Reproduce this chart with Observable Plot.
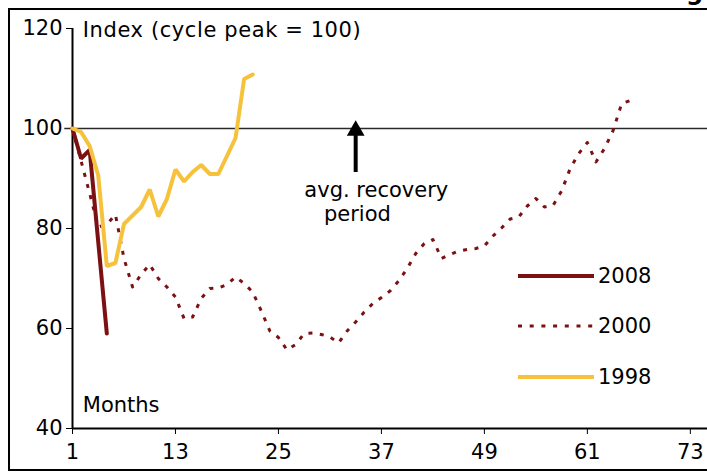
<!DOCTYPE html>
<html>
<head>
<meta charset="utf-8">
<script src="https://cdn.jsdelivr.net/npm/d3@7"></script>
<script src="https://cdn.jsdelivr.net/npm/@observablehq/plot@0.6"></script>
<style>
  html, body { margin: 0; padding: 0; background: #fff; overflow: hidden; }
  #wrap { position: relative; width: 707px; height: 475px; overflow: hidden; font-family: "DejaVu Sans", sans-serif; }
  #frame { position: absolute; left: 8px; top: 8px; width: 710px; height: 463px; border: 2px solid #000; box-sizing: border-box; pointer-events: none; }
  #cut { position: absolute; left: 686px; top: -20px; font: bold 24px "DejaVu Sans"; line-height: 24px; color: #000; }
  .leg { position: absolute; left: 518px; height: 30px; display: flex; align-items: center; font-size: 21px; color: #000; }
  .leg svg { width: 76px; height: 10px; margin-right: 4px; }
  .wide { letter-spacing: 0.6px; }
</style>
</head>
<body>
<div id="wrap">
  <div id="chart"></div>
  <div id="frame"></div>
  <div id="cut">g</div>
  <div id="legend"></div>
</div>
<script>
// ---- data ----
const months2008 = [1, 2, 3, 4, 5];
const values2008 = [100, 94, 95.7, 77.3, 59];

const months1998 = [1,2,3,4,5,6,7,8,9,10,11,12,13,14,15,16,17,18,19,20,21,22];
const values1998 = [100, 99.3, 96.5, 90.6, 72.5, 73.1, 80.9, 82.6, 84.3, 87.8, 82.4, 85.9, 91.8, 89.4, 91.3, 92.7, 90.9, 90.9, 94.5, 98.1, 109.9, 110.8];

const months2000 = d3.range(1, 67);
const values2000 = [100, 93.5, 87, 80.3, 80.8, 82.8, 74, 68.3, 70.8, 72.8,
                    70, 68.3, 66.3, 62, 62.3, 66, 68, 68.1, 68.8, 70.3,
                    69, 67.3, 63.5, 59.5, 58.2, 55.7, 56.8, 59, 59.1, 58.8,
                    58.3, 57.1, 59.5, 61.3, 63.3, 65, 66.2, 67.5, 69.5, 72,
                    75, 77, 77.8, 74, 74.8, 75.5, 75.8, 76, 76.5, 78.5,
                    80.1, 81.9, 82.3, 84.5, 86, 84.3, 84.6, 87.5, 92, 95,
                    97.2, 93.3, 96, 99.6, 105, 105.6];

const xTicks = [1, 13, 25, 37, 49, 61, 73];
const yTicks = [40, 60, 80, 100, 120];
const seriesNames = ["2008", "2000", "1998"];
const seriesColors = ["#7b1113", "#7b1113", "#f6c23c"];

const yLabel = "Index (cycle peak = 100)";
const xLabel = "Months";
const noteLines = ["avg. recovery", "period"];
const notePos = [{x: 36.4, y: 87.6}, {x: 34.2, y: 82.8}];
const arrowMonth = 34;
const arrowFrom = 91.2, arrowTo = 99.6;
const refLevel = 100;

// ---- tables ----
const d2008 = months2008.map((m, i) => ({m, v: values2008[i]}));
const d1998 = months1998.map((m, i) => ({m, v: values1998[i]}));
const d2000 = months2000.map((m, i) => ({m, v: values2000[i]}));

const chart = Plot.plot({
  width: 707,
  height: 475,
  marginLeft: 72,
  marginRight: 0,
  marginTop: 28,
  marginBottom: 47,
  style: {fontFamily: "DejaVu Sans", fontSize: "21px", color: "#000", background: "transparent"},
  x: {domain: [1, 75], ticks: xTicks, tickSize: 6, tickPadding: 10, tickFormat: d => String(d), label: null},
  y: {domain: [40, 120], ticks: yTicks, tickSize: 6, tickPadding: 4, label: null},
  marks: [
    Plot.ruleY([refLevel], {stroke: "#2a2a2a", strokeWidth: 1.6, x1: 0.1, x2: 75}),
    Plot.ruleX([1], {y1: 40, y2: 120, stroke: "#000", strokeWidth: 2}),
    Plot.ruleY([40], {stroke: "#000", strokeWidth: 2}),
    Plot.line(d2008, {x: "m", y: "v", stroke: seriesColors[0], strokeWidth: 4, strokeLinejoin: "miter"}),
    Plot.line(d2000, {x: "m", y: "v", stroke: seriesColors[1], strokeWidth: 3, strokeDasharray: "4,7.5", strokeLinecap: "butt"}),
    Plot.line(d1998, {x: "m", y: "v", stroke: seriesColors[2], strokeWidth: 4, strokeLinejoin: "miter"}),
    Plot.ruleX([arrowMonth], {y1: arrowFrom, y2: arrowTo - 0.8, stroke: "#000", strokeWidth: 4}),
    Plot.dot([arrowMonth], {x: d => d, y: arrowTo, symbol: "triangle", r: 6.6, fill: "#000", stroke: "none"}),
    Plot.text([yLabel], {x: 2.2, y: 119.6, text: d => d, textAnchor: "start", fontSize: 21, className: "wide"}),
    Plot.text([xLabel], {x: 2.2, y: 44.6, text: d => d, textAnchor: "start", fontSize: 21}),
    Plot.text(noteLines, {x: (d, i) => notePos[i].x, y: (d, i) => notePos[i].y, text: d => d, textAnchor: "middle", fontSize: 21})
  ]
});
document.getElementById("chart").appendChild(chart);

// legend
const legTops = [261, 311, 362];
const legend = document.getElementById("legend");
seriesNames.forEach((name, i) => {
  const row = document.createElement("div");
  row.className = "leg";
  row.style.top = legTops[i] + "px";
  const dash = i === 1 ? 'stroke-dasharray="4,7.7"' : "";
  const w = i === 1 ? 3 : 4;
  row.innerHTML = `<svg viewBox="0 0 76 10"><line x1="0" y1="5" x2="76" y2="5" stroke="${seriesColors[i]}" stroke-width="${w}" ${dash}/></svg><span>${name}</span>`;
  legend.appendChild(row);
});
</script>
</body>
</html>
